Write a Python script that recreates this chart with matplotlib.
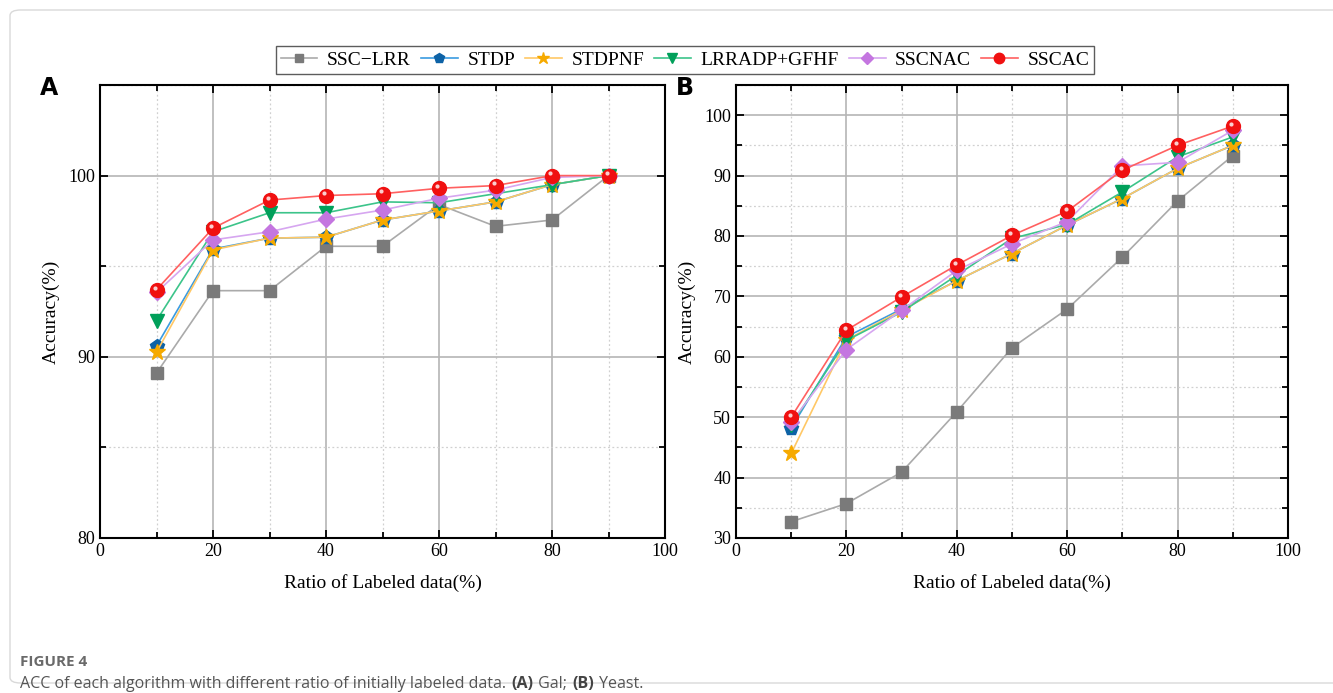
import matplotlib
matplotlib.use("Agg")
import matplotlib.pyplot as plt
import matplotlib.transforms as mtransforms
from matplotlib.patches import FancyBboxPatch
from matplotlib.ticker import MultipleLocator

# ratio of labeled data (%)
ratios = [10, 20, 30, 40, 50, 60, 70, 80, 90]

algos = ["SSC\u2212LRR", "STDP", "STDPNF", "LRRADP+GFHF", "SSCNAC", "SSCAC"]

# (A) Gal
gal_ssc_lrr = [89.1, 93.65, 93.65, 96.1, 96.1, 98.4, 97.2, 97.55, 100.0]
gal_stdp = [90.6, 95.95, 96.55, 96.6, 97.55, 98.05, 98.55, 99.5, 100.0]
gal_stdpnf = [90.25, 95.9, 96.55, 96.6, 97.55, 98.05, 98.55, 99.5, 100.0]
gal_lrradp = [92.0, 96.9, 97.95, 97.95, 98.55, 98.5, 99.0, 99.5, 100.0]
gal_sscnac = [93.55, 96.45, 96.9, 97.6, 98.1, 98.75, 99.2, 99.9, 100.0]
gal_sscac = [93.7, 97.1, 98.65, 98.9, 99.0, 99.3, 99.45, 100.0, 100.0]

# (B) Yeast
yeast_ssc_lrr = [32.7, 35.7, 40.9, 50.9, 61.5, 67.9, 76.5, 85.8, 93.3]
yeast_stdp = [48.2, 63.3, 67.9, 72.6, 77.1, 81.8, 86.2, 91.2, 95.0]
yeast_stdpnf = [44.0, 62.8, 67.7, 72.6, 77.1, 81.8, 86.2, 91.2, 95.0]
yeast_lrradp = [48.7, 62.7, 67.4, 73.5, 79.6, 81.9, 87.3, 93.1, 96.4]
yeast_sscnac = [49.2, 61.2, 67.7, 74.3, 78.7, 82.4, 91.6, 92.2, 97.5]
yeast_sscac = [50.0, 64.4, 69.9, 75.2, 80.1, 84.1, 90.9, 95.0, 98.2]

gal = [gal_ssc_lrr, gal_stdp, gal_stdpnf, gal_lrradp, gal_sscnac, gal_sscac]
yeast = [yeast_ssc_lrr, yeast_stdp, yeast_stdpnf, yeast_lrradp, yeast_sscnac, yeast_sscac]

# marker, marker colour, line colour
styles = [
    ("s", "#7a7a7a", "#aaaaaa"),
    ("p", "#0d62a6", "#3a9be0"),
    ("*", "#f6aa00", "#ffc866"),
    ("v", "#00a05a", "#3cc48a"),
    ("D", "#c476e0", "#d6a6f0"),
    ("o", "#f01010", "#ff6060"),
]
msizes = [8, 10, 12, 10, 8, 10]

serif = ["Liberation Serif", "DejaVu Serif"]
plt.rcParams["font.family"] = serif


def draw_panel(ax, series, ylim, ymajor, yminor):
    for i, vals in enumerate(series):
        mk, mc, lc = styles[i]
        ax.plot(ratios, vals, color=lc, lw=1.2, marker=mk, ms=msizes[i],
                mfc=mc, mec=mc, label=algos[i], zorder=3 + i)
        if mk == "o":
            # small highlight on the red spheres
            off = mtransforms.ScaledTranslation(-1.2 / 72, 1.6 / 72, fig.dpi_scale_trans)
            ax.plot(ratios, vals, ls="none", marker="o", ms=3, mfc="white",
                    mec="none", alpha=0.8, transform=ax.transData + off, zorder=10)
    ax.set_xlim(0, 100)
    ax.set_ylim(*ylim)
    ax.xaxis.set_major_locator(MultipleLocator(20))
    ax.xaxis.set_minor_locator(MultipleLocator(10))
    ax.yaxis.set_major_locator(MultipleLocator(ymajor))
    ax.yaxis.set_minor_locator(MultipleLocator(yminor))
    ax.grid(which="major", color="#b5b5b5", lw=1.2, ls="-")
    ax.grid(which="minor", color="#d0d0d0", lw=0.9, ls=(0, (1.5, 2)))
    ax.set_axisbelow(True)
    ax.tick_params(which="both", direction="in", top=True, right=True,
                   labelsize=13, width=1.3)
    ax.tick_params(which="major", length=6)
    ax.tick_params(which="minor", length=4)
    for sp in ax.spines.values():
        sp.set_linewidth(1.5)
    ax.set_xlabel("Ratio of Labeled data(%)", fontsize=14, labelpad=10)
    ax.set_ylabel("Accuracy(%)", fontsize=14, labelpad=6)


fig = plt.figure(figsize=(13.33, 6.93), dpi=100)

# outer frame of the figure card
frame = FancyBboxPatch((10 / 1333, 10 / 693), 1.2, 1.0 - 20 / 693,
                       boxstyle="round,pad=0,rounding_size=0.008",
                       transform=fig.transFigure, fc="none", ec="#d9d9d9",
                       lw=1.0, clip_on=False)
fig.patches.append(frame)

ax_a = fig.add_axes([100 / 1333, 155 / 693, 565 / 1333, 453 / 693])
ax_b = fig.add_axes([736 / 1333, 155 / 693, 552 / 1333, 453 / 693])

draw_panel(ax_a, gal, (80, 105), 10, 5)
ax_a.set_yticks([80, 90, 100])
draw_panel(ax_b, yeast, (30, 105), 10, 5)
ax_b.set_yticks(range(30, 101, 10))

fig.text(40 / 1333, 1 - 88 / 693, "A", fontsize=17, fontweight="bold",
         family="DejaVu Sans", va="center", ha="left")
fig.text(676 / 1333, 1 - 88 / 693, "B", fontsize=17, fontweight="bold",
         family="DejaVu Sans", va="center", ha="left")

handles, labels = ax_a.get_legend_handles_labels()
leg = fig.legend(handles, labels, loc="center", ncol=6,
                 bbox_to_anchor=(685 / 1333, 1 - 60 / 693), fontsize=14,
                 frameon=True, fancybox=False, edgecolor="#333333",
                 handlelength=1.9, handletextpad=0.5, columnspacing=0.5,
                 borderpad=0.25, markerscale=0.75)
leg.get_frame().set_linewidth(1.0)

fig.text(20 / 1333, 1 - 662 / 693, "FIGURE 4", fontsize=11, fontweight="bold",
         color="#6a6a6a", family="Open Sans", va="center")

# caption pieces, each placed right after the previous one
caption = [
    ("ACC of each algorithm with different ratio of initially labeled data. ", "normal", "#555555"),
    ("(A)", "bold", "#444444"),
    (" Gal; ", "normal", "#555555"),
    ("(B)", "bold", "#444444"),
    (" Yeast.", "normal", "#555555"),
]
renderer = fig.canvas.get_renderer()
x_px = 20
for txt, wt, col in caption:
    t = fig.text(x_px / 1333, 1 - 684 / 693, txt, fontsize=11.5, fontweight=wt,
                 color=col, family="Open Sans", va="center")
    x_px = t.get_window_extent(renderer).x1 + 1

fig.savefig("out.png", dpi=100)
